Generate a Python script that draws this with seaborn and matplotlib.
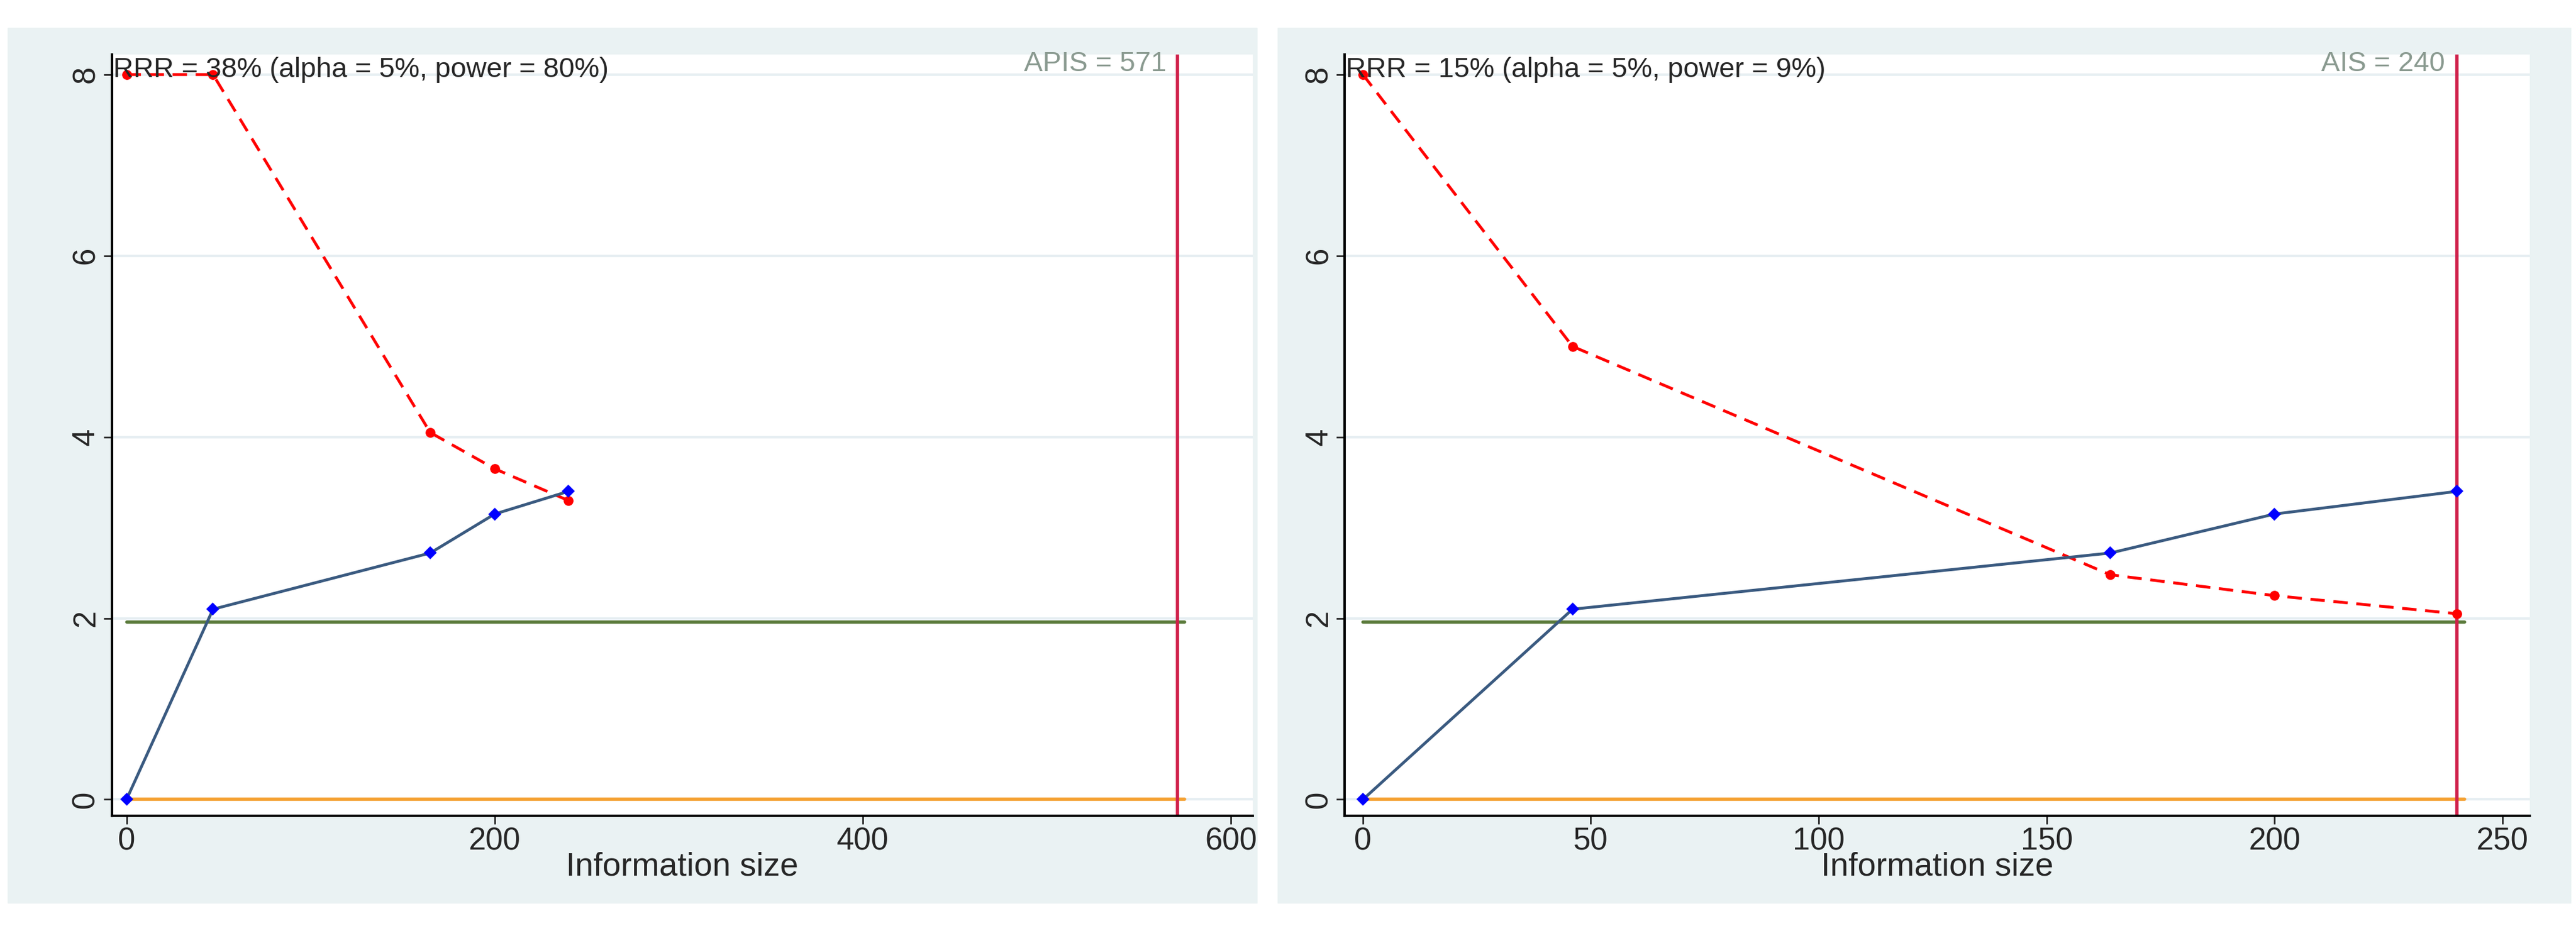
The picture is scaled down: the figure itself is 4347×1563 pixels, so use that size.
import matplotlib
matplotlib.use("Agg")
import matplotlib.pyplot as plt
import seaborn as sns
import pandas as pd

# left panel
left_x = [0, 47, 165, 200, 240]
left_z = [0, 2.1, 2.72, 3.15, 3.4]
left_bound = [8, 8, 4.05, 3.65, 3.3]
left_is = 571
left_label = "APIS = 571"
left_title = "RRR = 38% (alpha = 5%, power = 80%)"
left_xticks = [0, 200, 400, 600]

# right panel
right_x = [0, 46, 164, 200, 240]
right_z = [0, 2.1, 2.72, 3.15, 3.4]
right_bound = [8, 5, 2.48, 2.25, 2.05]
right_is = 240
right_label = "AIS = 240"
right_title = "RRR = 15% (alpha = 5%, power = 9%)"
right_xticks = [0, 50, 100, 150, 200, 250]

yticks = [0, 2, 4, 6, 8]
z_crit = 1.96

sns.set_theme(style="white")
plt.rcParams['font.family'] = ['Liberation Sans', 'DejaVu Sans']
bg = "#EAF2F3"
fig = plt.figure(figsize=(43.47, 15.63), dpi=100, facecolor="white")


def panel(rect, bgx, x, z, bound, info, lab, title, xticks, xlim):
    fig.patches.append(plt.Rectangle((bgx[0], 0.025), bgx[1] - bgx[0], 0.945,
                                     transform=fig.transFigure, color=bg, zorder=-1))
    ax = fig.add_axes(rect)
    ax.set_facecolor("white")
    df = pd.DataFrame({"x": x, "z": z, "b": bound})
    ax.grid(axis="y", color="#E6EEF2", lw=3)
    ax.plot([0, info * 1.007], [z_crit, z_crit], color="#5A7A3A", lw=4)
    ax.plot([0, info * 1.007], [0, 0], color="#F5A030", lw=4)
    ax.axvline(info, color="#D0204A", lw=4)
    sns.lineplot(data=df, x="x", y="b", ax=ax, color="red", lw=3.5, marker="o",
                 markersize=12, markeredgewidth=0, linestyle=(0, (5, 3)))
    sns.lineplot(data=df, x="x", y="z", ax=ax, color="#3A5A80", lw=3.5, marker="D",
                 markersize=11, markeredgewidth=0, markerfacecolor="blue")
    ax.set_xlim(*xlim)
    ax.set_ylim(-0.18, 8.22)
    ax.set_xticks(xticks)
    ax.set_yticks(yticks)
    ax.tick_params(axis="both", labelsize=38, length=10, width=2, left=True, bottom=True)
    for t in ax.get_yticklabels():
        t.set_rotation(90)
        t.set_va("center")
    for s in ["top", "right"]:
        ax.spines[s].set_visible(False)
    for s in ["left", "bottom"]:
        ax.spines[s].set_color("black")
        ax.spines[s].set_linewidth(3)
    ax.set_xlabel("Information size", fontsize=40, labelpad=-6)
    ax.set_ylabel("")
    ax.text(xlim[0] + (xlim[1] - xlim[0]) * 0.001, 8.05, title, fontsize=34, va="center")
    ax.text(info - (xlim[1] - xlim[0]) * 0.01, 8.12, lab, fontsize=34, va="center",
            ha="right", color="#8A9A90")
    return ax


panel([0.0434, 0.119, 0.443, 0.822], (0.003, 0.488), left_x, left_z, left_bound,
      left_is, left_label, left_title, left_xticks, (-8, 612))
panel([0.522, 0.119, 0.46, 0.822], (0.496, 0.998), right_x, right_z, right_bound,
      right_is, right_label, right_title, right_xticks, (-4, 256))

fig.savefig("out.png", dpi=100)
